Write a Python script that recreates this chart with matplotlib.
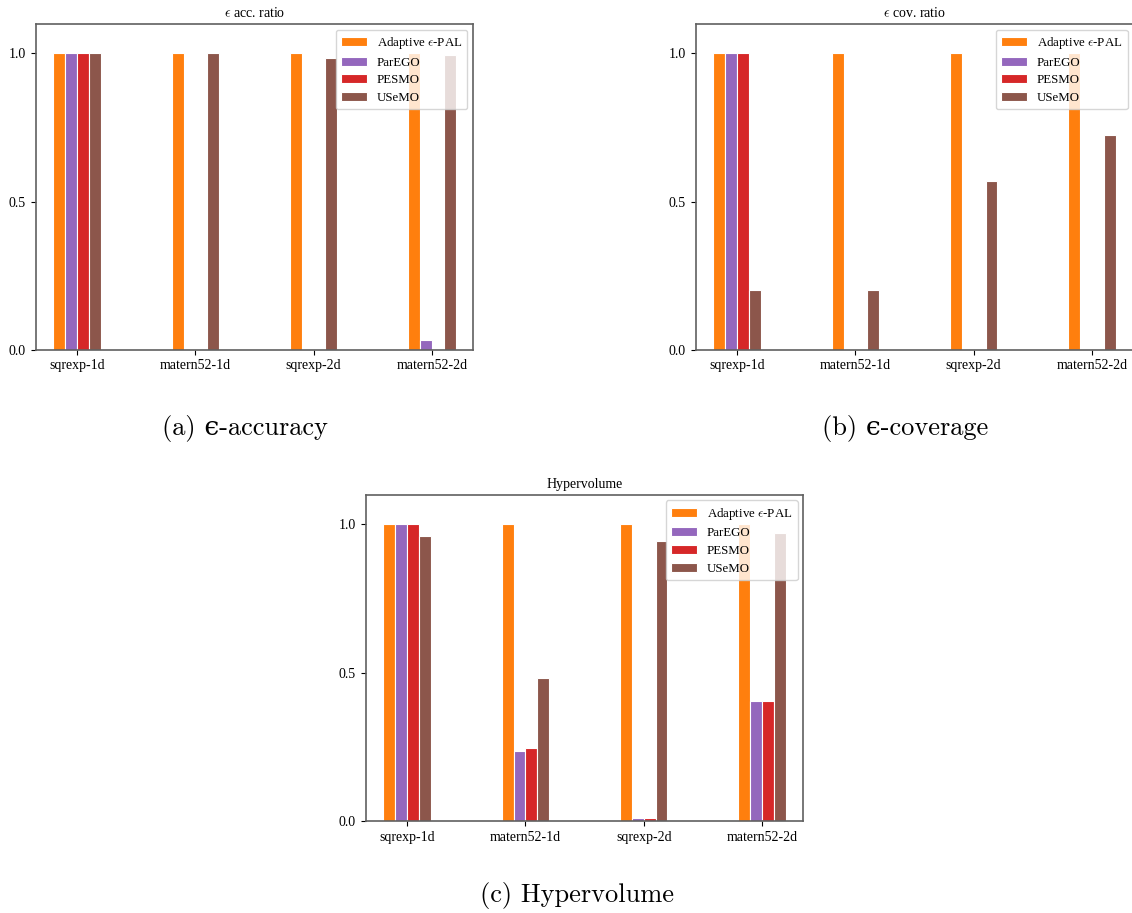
import matplotlib
matplotlib.use("Agg")
import matplotlib.pyplot as plt
import numpy as np

plt.rcParams["font.family"] = "Liberation Serif"
plt.rcParams["mathtext.fontset"] = "cm"
plt.rcParams["font.size"] = 10

BENCHMARKS = ["sqrexp-1d", "matern52-1d", "sqrexp-2d", "matern52-2d"]
METHODS = [r"Adaptive $\epsilon$-PAL", "ParEGO", "PESMO", "USeMO"]
COLORS = ["#ff7f0e", "#9467bd", "#d62728", "#8c564b"]

# epsilon-accuracy ratio
acc_pal = [1.0, 1.0, 1.0, 1.0]
acc_parego = [1.0, 0.0, 0.0, 0.032]
acc_pesmo = [1.0, 0.0, 0.0, 0.0]
acc_usemo = [1.0, 1.0, 0.983, 0.996]

# epsilon-coverage ratio
cov_pal = [1.0, 1.0, 1.0, 1.0]
cov_parego = [1.0, 0.0, 0.0, 0.0]
cov_pesmo = [1.0, 0.0, 0.0, 0.0]
cov_usemo = [0.2, 0.2, 0.57, 0.726]

# normalised hypervolume
hv_pal = [1.0, 1.0, 1.0, 1.0]
hv_parego = [1.0, 0.236, 0.010, 0.403]
hv_pesmo = [1.0, 0.246, 0.009, 0.403]
hv_usemo = [0.961, 0.482, 0.945, 0.971]

W = 0.1


def bar_panel(ax, series, title):
    x = np.arange(len(BENCHMARKS))
    for i, (vals, col, name) in enumerate(zip(series, COLORS, METHODS)):
        ax.bar(x + (i - 1.5) * W, vals, W, color=col, label=name,
               edgecolor="white", linewidth=0.8)
    ax.set_xticks(x)
    ax.set_xticklabels(BENCHMARKS)
    ax.set_yticks([0.0, 0.5, 1.0])
    ax.set_ylim(0, 1.1)
    ax.set_xlim(-0.35, 3.35)
    ax.set_title(title, fontsize=10, pad=5)
    for sp in ax.spines.values():
        sp.set_color("#606060")
        sp.set_linewidth(1.2)
    ax.legend(loc="upper right", fontsize=9.3, framealpha=0.8,
              handlelength=2.0, labelspacing=0.45, borderaxespad=0.45)


fig = plt.figure(figsize=(11.32, 9.13), dpi=100)
ax_a = fig.add_axes([0.0315, 0.617, 0.3866, 0.357])
ax_b = fig.add_axes([0.6146, 0.617, 0.3866, 0.357])
ax_c = fig.add_axes([0.3231, 0.1008, 0.3866, 0.3574])

bar_panel(ax_a, [acc_pal, acc_parego, acc_pesmo, acc_usemo], r"$\epsilon$ acc. ratio")
bar_panel(ax_b, [cov_pal, cov_parego, cov_pesmo, cov_usemo], r"$\epsilon$ cov. ratio")
bar_panel(ax_c, [hv_pal, hv_parego, hv_pesmo, hv_usemo], "Hypervolume")

cap = dict(ha="center", va="center", fontsize=19,
           family=["cmr10", "DejaVu Serif"])
fig.text(245 / 1132, 1 - 428 / 913, "(a) ϵ-accuracy", **cap)
fig.text(905 / 1132, 1 - 428 / 913, "(b) ϵ-coverage", **cap)
fig.text(577 / 1132, 1 - 895 / 913, "(c) Hypervolume", **cap)

fig.savefig("out.png", dpi=100)
